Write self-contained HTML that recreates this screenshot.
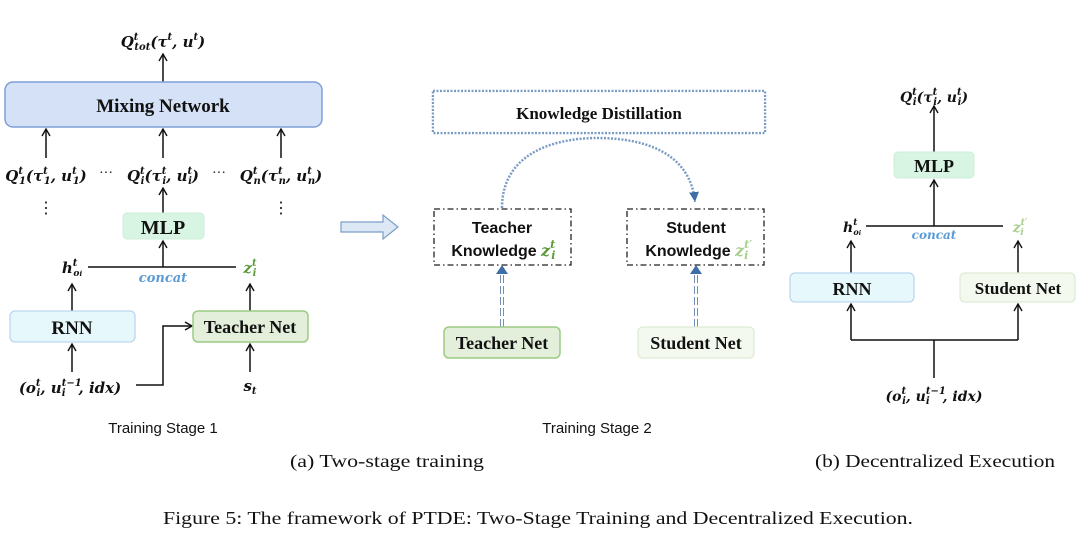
<!DOCTYPE html>
<html><head><meta charset="utf-8"><style>
html,body{margin:0;padding:0;background:#fff;}
svg{display:block}
.b{font-family:"Liberation Serif",serif;font-weight:bold;fill:#111}
.m{font-family:"DejaVu Serif","Liberation Serif",serif;font-weight:bold;font-style:italic;fill:#111}
.s{font-family:"Liberation Sans",sans-serif;fill:#111}
.c{font-family:"Liberation Serif",serif;fill:#111}
</style></head><body>
<svg width="1080" height="555" viewBox="0 0 1080 555" xmlns="http://www.w3.org/2000/svg">
<defs>
<marker id="a" markerWidth="10" markerHeight="10" refX="8" refY="5" orient="auto" markerUnits="userSpaceOnUse">
<path d="M1,1 L8,5 L1,9" fill="none" stroke="#111" stroke-width="1.4"/></marker>
<marker id="bl" markerWidth="12" markerHeight="12" refX="10" refY="6" orient="auto" markerUnits="userSpaceOnUse">
<path d="M0,1 L10,6 L0,11 z" fill="#3d6fa6"/></marker>
</defs>
<g stroke="#111" stroke-width="1.5" fill="none">
<line x1="163" y1="127" x2="163" y2="54" marker-end="url(#a)"/>
<line x1="46" y1="158" x2="46" y2="129" marker-end="url(#a)"/>
<line x1="163" y1="158" x2="163" y2="129" marker-end="url(#a)"/>
<line x1="281" y1="158" x2="281" y2="129" marker-end="url(#a)"/>
<line x1="163" y1="213" x2="163" y2="188" marker-end="url(#a)"/>
<line x1="163" y1="267" x2="163" y2="241" marker-end="url(#a)"/>
<line x1="88" y1="267" x2="236" y2="267"/>
<line x1="72" y1="311" x2="72" y2="284" marker-end="url(#a)"/>
<line x1="250" y1="311" x2="250" y2="284" marker-end="url(#a)"/>
<line x1="72" y1="372" x2="72" y2="344" marker-end="url(#a)"/>
<line x1="250" y1="372" x2="250" y2="344" marker-end="url(#a)"/>
<polyline points="136,385 163,385 163,326 192,326" marker-end="url(#a)"/>
<line x1="934" y1="152" x2="934" y2="106" marker-end="url(#a)"/>
<line x1="934" y1="226" x2="934" y2="180" marker-end="url(#a)"/>
<line x1="866" y1="226" x2="1003" y2="226"/>
<line x1="851" y1="273" x2="851" y2="241" marker-end="url(#a)"/>
<line x1="1018" y1="273" x2="1018" y2="241" marker-end="url(#a)"/>
<polyline points="851,340 1018,340"/>
<line x1="851" y1="340" x2="851" y2="304" marker-end="url(#a)"/>
<line x1="1018" y1="340" x2="1018" y2="304" marker-end="url(#a)"/>
<line x1="934" y1="378" x2="934" y2="340"/>
</g>
<rect x="5" y="82" width="317" height="45" rx="8" fill="#d5e1f7" stroke="#7e9fd6" stroke-width="1.5"/>
<text x="163" y="112" text-anchor="middle" class="b" font-size="19">Mixing Network</text>
<rect x="123" y="213" width="81" height="26" rx="4" fill="#d7f5e2" stroke="#cdeed9"/>
<text x="163" y="234" text-anchor="middle" class="b" font-size="20">MLP</text>
<rect x="10" y="311" width="125" height="31" rx="5" fill="#e6f8fb" stroke="#bcd6ee" stroke-width="1.3"/>
<text x="72" y="334" text-anchor="middle" class="b" font-size="19">RNN</text>
<rect x="193" y="311" width="115" height="31" rx="5" fill="#e3efda" stroke="#9ccb83" stroke-width="1.5"/>
<text x="250" y="333" text-anchor="middle" class="b" font-size="18">Teacher Net</text>
<text x="163" y="47" text-anchor="middle" class="m" font-size="15">Q<tspan font-size="10" dy="-7">t</tspan><tspan font-size="10" dx="-4" dy="10">tot</tspan><tspan dy="-3">(τ</tspan><tspan font-size="10" dy="-7">t</tspan><tspan dy="7">, u</tspan><tspan font-size="10" dy="-7">t</tspan><tspan dy="7">)</tspan></text>
<text x="46" y="181" text-anchor="middle" class="m" font-size="15">Q<tspan font-size="10" dy="-7">t</tspan><tspan font-size="10" dx="-4" dy="10">1</tspan><tspan dy="-3">(τ</tspan><tspan font-size="10" dy="-7">t</tspan><tspan font-size="10" dx="-4" dy="10">1</tspan><tspan dy="-3">, u</tspan><tspan font-size="10" dy="-7">t</tspan><tspan font-size="10" dx="-4" dy="10">1</tspan><tspan dy="-3">)</tspan></text>
<text x="163" y="181" text-anchor="middle" class="m" font-size="15">Q<tspan font-size="10" dy="-7">t</tspan><tspan font-size="10" dx="-4" dy="10">i</tspan><tspan dy="-3">(τ</tspan><tspan font-size="10" dy="-7">t</tspan><tspan font-size="10" dx="-4" dy="10">i</tspan><tspan dy="-3">, u</tspan><tspan font-size="10" dy="-7">t</tspan><tspan font-size="10" dx="-4" dy="10">i</tspan><tspan dy="-3">)</tspan></text>
<text x="281" y="181" text-anchor="middle" class="m" font-size="15">Q<tspan font-size="10" dy="-7">t</tspan><tspan font-size="10" dx="-4" dy="10">n</tspan><tspan dy="-3">(τ</tspan><tspan font-size="10" dy="-7">t</tspan><tspan font-size="10" dx="-4" dy="10">n</tspan><tspan dy="-3">, u</tspan><tspan font-size="10" dy="-7">t</tspan><tspan font-size="10" dx="-4" dy="10">n</tspan><tspan dy="-3">)</tspan></text>
<text x="106" y="177" text-anchor="middle" class="c" font-size="14">···</text>
<text x="219" y="177" text-anchor="middle" class="c" font-size="14">···</text>
<text x="46" y="213" text-anchor="middle" class="c" font-size="16">⋮</text>
<text x="281" y="213" text-anchor="middle" class="c" font-size="16">⋮</text>
<text x="72" y="273" text-anchor="middle" class="m" font-size="15">h<tspan font-size="10" dy="-7">t</tspan><tspan font-size="9" dx="-4" dy="10">o</tspan><tspan font-size="7">i</tspan></text>
<text x="250" y="273" text-anchor="middle" class="m" font-size="15" style="fill:#5b9a3a">z<tspan font-size="10" dy="-7">t</tspan><tspan font-size="10" dx="-4" dy="10">i</tspan></text>
<text x="163" y="282" text-anchor="middle" class="m" font-size="13" style="fill:#5b9bd5">concat</text>
<text x="70" y="393" text-anchor="middle" class="m" font-size="15">(o<tspan font-size="10" dy="-7">t</tspan><tspan font-size="10" dx="-4" dy="10">i</tspan><tspan dy="-3">, u</tspan><tspan font-size="10" dy="-7">t−1</tspan><tspan font-size="10" dx="-20" dy="10">i</tspan><tspan dx="13" dy="-3">, idx)</tspan></text>
<text x="250" y="391" text-anchor="middle" class="m" font-size="15">s<tspan font-size="10" dy="3">t</tspan></text>
<text x="163" y="433" text-anchor="middle" class="s" font-size="15">Training Stage 1</text>
<path d="M341,222 L383,222 L383,215 L398,227 L383,239 L383,232 L341,232 Z" fill="#dce8f5" stroke="#7c9fc6" stroke-width="1.2"/>
<rect x="433" y="91" width="332" height="42" fill="none" stroke="#7a9cc4" stroke-width="2.5" stroke-dasharray="2 1.5"/>
<rect x="434.5" y="92.5" width="329" height="39" fill="none" stroke="#fff" stroke-width="0.7"/>
<text x="599" y="119" text-anchor="middle" class="b" font-size="17">Knowledge Distillation</text>
<path d="M502,208 C502,150 560,138 597,138 C640,138 690,150 695,202" fill="none" stroke="#7a9cc4" stroke-width="2.5" stroke-dasharray="2 1.5" marker-end="url(#bl)"/>
<rect x="434" y="209" width="137" height="56" fill="none" stroke="#222" stroke-width="1.3" stroke-dasharray="6 3 1.5 3"/>
<text x="502" y="233" text-anchor="middle" class="s" font-size="16" font-weight="bold">Teacher</text>
<text x="494" y="256" text-anchor="middle" class="s" font-size="16" font-weight="bold">Knowledge</text>
<text x="541" y="256" class="m" font-size="16" style="fill:#5b9a3a">z<tspan font-size="11" dy="-8">t</tspan><tspan font-size="11" dx="-4" dy="11">i</tspan></text>
<rect x="627" y="209" width="137" height="56" fill="none" stroke="#222" stroke-width="1.3" stroke-dasharray="6 3 1.5 3"/>
<text x="696" y="233" text-anchor="middle" class="s" font-size="16" font-weight="bold">Student</text>
<text x="688" y="256" text-anchor="middle" class="s" font-size="16" font-weight="bold">Knowledge</text>
<text x="735" y="256" class="m" font-size="16" style="fill:#a8d08d">z<tspan font-size="11" dy="-8">t′</tspan><tspan font-size="11" dx="-8" dy="11">i</tspan></text>
<g stroke="#6f8fb8" stroke-width="1" stroke-dasharray="8 3">
<line x1="500.5" y1="327" x2="500.5" y2="274"/><line x1="503.5" y1="327" x2="503.5" y2="274"/>
<line x1="694.5" y1="327" x2="694.5" y2="274"/><line x1="697.5" y1="327" x2="697.5" y2="274"/>
</g>
<path d="M496,274 L502,265 L508,274 Z" fill="#3d6fa6"/>
<path d="M690,274 L696,265 L702,274 Z" fill="#3d6fa6"/>
<rect x="444" y="327" width="116" height="31" rx="5" fill="#e3efda" stroke="#9ccb83" stroke-width="1.5"/>
<text x="502" y="349" text-anchor="middle" class="b" font-size="18">Teacher Net</text>
<rect x="638" y="327" width="116" height="31" rx="5" fill="#f4f9f0" stroke="#dcebd2" stroke-width="1.2"/>
<text x="696" y="349" text-anchor="middle" class="b" font-size="18">Student Net</text>
<text x="597" y="433" text-anchor="middle" class="s" font-size="15">Training Stage 2</text>
<text x="934" y="102" text-anchor="middle" class="m" font-size="14">Q<tspan font-size="10" dy="-7">t</tspan><tspan font-size="10" dx="-4" dy="10">i</tspan><tspan dy="-3">(τ</tspan><tspan font-size="10" dy="-7">t</tspan><tspan font-size="10" dx="-4" dy="10">i</tspan><tspan dy="-3">, u</tspan><tspan font-size="10" dy="-7">t</tspan><tspan font-size="10" dx="-4" dy="10">i</tspan><tspan dy="-3">)</tspan></text>
<rect x="894" y="152" width="80" height="26" rx="4" fill="#d7f5e2" stroke="#cdeed9"/>
<text x="934" y="172" text-anchor="middle" class="b" font-size="18">MLP</text>
<text x="852" y="232" text-anchor="middle" class="m" font-size="14">h<tspan font-size="9" dy="-7">t</tspan><tspan font-size="8" dx="-4" dy="10">o</tspan><tspan font-size="6">i</tspan></text>
<text x="1020" y="232" text-anchor="middle" class="m" font-size="14" style="fill:#a8d08d">z<tspan font-size="9" dy="-7">t′</tspan><tspan font-size="9" dx="-7" dy="10">i</tspan></text>
<text x="934" y="239" text-anchor="middle" class="m" font-size="12" style="fill:#5b9bd5">concat</text>
<rect x="790" y="273" width="124" height="29" rx="5" fill="#e6f8fb" stroke="#bcd6ee" stroke-width="1.3"/>
<text x="852" y="295" text-anchor="middle" class="b" font-size="18">RNN</text>
<rect x="960" y="273" width="115" height="29" rx="5" fill="#f4f9f0" stroke="#dcebd2" stroke-width="1.2"/>
<text x="1018" y="294" text-anchor="middle" class="b" font-size="17">Student Net</text>
<text x="934" y="401" text-anchor="middle" class="m" font-size="14">(o<tspan font-size="10" dy="-7">t</tspan><tspan font-size="10" dx="-4" dy="10">i</tspan><tspan dy="-3">, u</tspan><tspan font-size="10" dy="-7">t−1</tspan><tspan font-size="10" dx="-20" dy="10">i</tspan><tspan dx="13" dy="-3">, idx)</tspan></text>
<text x="290" y="467" class="c" font-size="18" textLength="194" lengthAdjust="spacingAndGlyphs">(a)  Two-stage training</text>
<text x="815" y="467" class="c" font-size="18" textLength="240" lengthAdjust="spacingAndGlyphs">(b)  Decentralized Execution</text>
<text x="163" y="524" class="c" font-size="18" textLength="750" lengthAdjust="spacingAndGlyphs">Figure 5: The framework of PTDE: Two-Stage Training and Decentralized Execution.</text>
</svg>
</body></html>
